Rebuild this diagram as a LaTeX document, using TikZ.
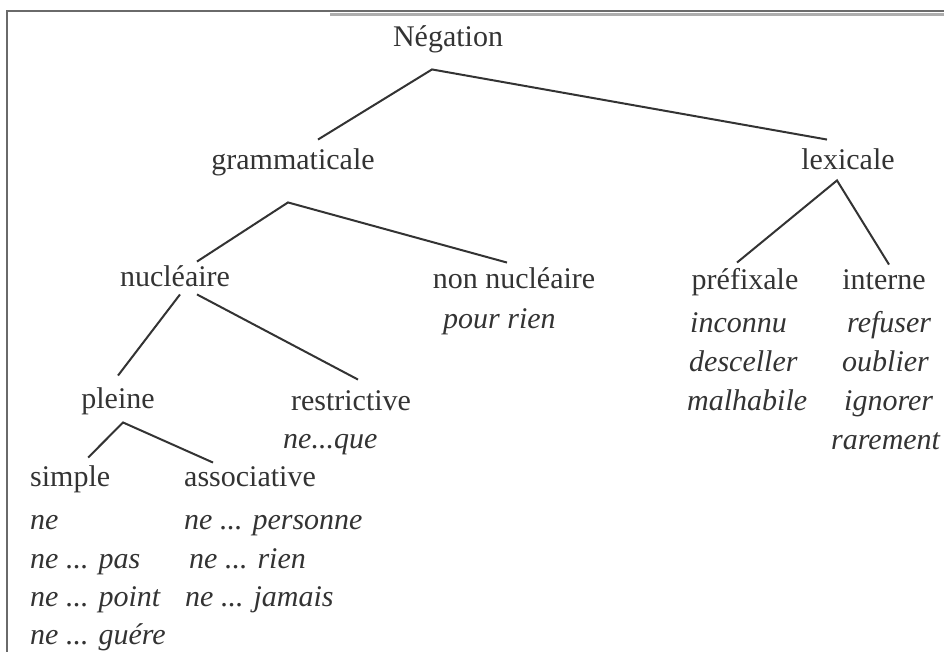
\documentclass[tikz,border=0pt]{standalone}
\usepackage{fontspec}
\setmainfont{Liberation Serif}
\usepackage{xcolor}
\usepackage{tikz}

\definecolor{ink}{HTML}{333333}
\definecolor{rim}{HTML}{6A6A6A}

\begin{document}
\begin{tikzpicture}[x=1pt, y=-1pt,
    every node/.style={font=\fontsize{30}{36}\selectfont, text=ink, inner sep=0pt, text height=21pt, text depth=7.5pt},
    ex/.style={font=\fontsize{30}{36}\selectfont\itshape, anchor=west},
    branch/.style={draw=ink, line width=2pt}]
    \useasboundingbox (0,0) rectangle (944,652);
    % Scan frame
    \draw[rim, line width=1.5pt] (7,652) -- (7,11) -- (944,11);
    \draw[rim!55, line width=3pt] (330,15) -- (944,15);
    % Root
    \node (neg) at (448,40) {Négation};
    % Level 1
    \node (gram) at (293,163) {grammaticale};
    \node (lex) at (848,163) {lexicale};
    \draw[branch] ([xshift=25pt,yshift=9pt]gram.north) -- ([xshift=-16pt,yshift=-15pt]neg.south) -- ([xshift=-21pt,yshift=9pt]lex.north);
    % Grammaticale
    \node (nuc) at (175,280) {nucléaire};
    \node (nonnuc) at (514,282) {non nucléaire};
    \node[ex] (pourrien) at (443,322) {pour rien};
    \draw[branch] ([xshift=22pt,yshift=4pt]nuc.north) -- ([xshift=-5pt,yshift=-25pt]gram.south) -- ([xshift=-7pt,yshift=5pt]nonnuc.north);
    % Nucleaire
    \node (pleine) at (118,402) {pleine};
    \node (restr) at (351,404) {restrictive};
    \node[ex] (neque) at (283,442) {ne...que};
    \draw[branch] ([xshift=5pt]nuc.south) -- ([yshift=12pt]pleine.north);
    \draw[branch] ([xshift=22pt]nuc.south) -- ([xshift=7pt,yshift=10pt]restr.north);
    % Pleine
    \node[anchor=west] (simple) at (30,480) {simple};
    \node[anchor=west] (assoc) at (184,480) {associative};
    \draw[branch] ([xshift=18pt,yshift=8pt]simple.north) -- ([xshift=5pt,yshift=-6pt]pleine.south) -- ([xshift=-37pt,yshift=3pt]assoc.north);
    \node[ex] (s1) at (30,523) {ne};
    \node[ex] (s2) at (30,562) {ne ... pas};
    \node[ex] (s3) at (30,600) {ne ... point};
    \node[ex] (s4) at (30,638) {ne ... guére};
    \node[ex] (a1) at (184,523) {ne ... personne};
    \node[ex] (a2) at (189,562) {ne ... rien};
    \node[ex] (a3) at (185,600) {ne ... jamais};
    % Lexicale
    \node (pref) at (745,283) {préfixale};
    \node (int) at (884,283) {interne};
    \draw[branch] ([xshift=-8pt,yshift=6pt]pref.north) -- ([xshift=-11pt,yshift=-3pt]lex.south) -- ([xshift=5pt,yshift=4pt]int.north);
    \node[ex] (p1) at (690,326) {inconnu};
    \node[ex] (p2) at (689,365) {desceller};
    \node[ex] (p3) at (687,404) {malhabile};
    \node[ex] (i1) at (847,326) {refuser};
    \node[ex] (i2) at (842,365) {oublier};
    \node[ex] (i3) at (844,404) {ignorer};
    \node[ex] (i4) at (831,443) {rarement};
\end{tikzpicture}
\end{document}
